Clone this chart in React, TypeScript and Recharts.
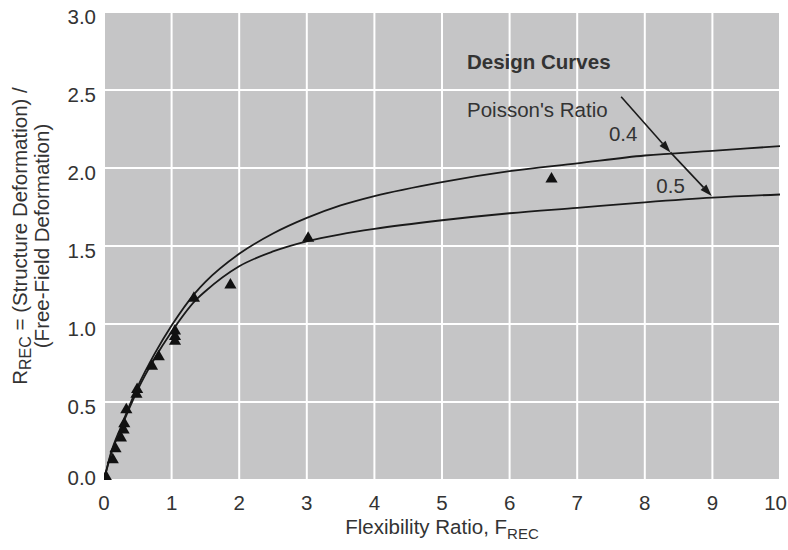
import React from 'react';
import {
  ComposedChart,
  Line,
  Scatter,
  XAxis,
  YAxis,
  CartesianGrid,
  ReferenceLine,
  ReferenceDot,
} from 'recharts';

// Design curve, Poisson's ratio 0.4
const curve04 = [
  { x: 0, y: 0 },
  { x: 0.1, y: 0.17 },
  { x: 0.25, y: 0.34 },
  { x: 0.5, y: 0.6 },
  { x: 0.75, y: 0.81 },
  { x: 1, y: 0.99 },
  { x: 1.35, y: 1.2 },
  { x: 1.5, y: 1.27 },
  { x: 2, y: 1.45 },
  { x: 2.5, y: 1.58 },
  { x: 3, y: 1.68 },
  { x: 3.5, y: 1.76 },
  { x: 4, y: 1.82 },
  { x: 5, y: 1.91 },
  { x: 6, y: 1.98 },
  { x: 7, y: 2.03 },
  { x: 8, y: 2.08 },
  { x: 9, y: 2.11 },
  { x: 10, y: 2.14 },
];

// Design curve, Poisson's ratio 0.5
const curve05 = [
  { x: 0, y: 0 },
  { x: 0.1, y: 0.16 },
  { x: 0.25, y: 0.33 },
  { x: 0.5, y: 0.58 },
  { x: 0.75, y: 0.78 },
  { x: 1, y: 0.95 },
  { x: 1.35, y: 1.15 },
  { x: 1.5, y: 1.21 },
  { x: 2, y: 1.37 },
  { x: 2.5, y: 1.465 },
  { x: 3, y: 1.53 },
  { x: 3.5, y: 1.575 },
  { x: 4, y: 1.61 },
  { x: 5, y: 1.665 },
  { x: 6, y: 1.71 },
  { x: 7, y: 1.745 },
  { x: 8, y: 1.78 },
  { x: 9, y: 1.81 },
  { x: 10, y: 1.83 },
];

// Measured points
const measured = [
  { x: 0.03, y: 0.02 },
  { x: 0.13, y: 0.13 },
  { x: 0.17, y: 0.2 },
  { x: 0.25, y: 0.27 },
  { x: 0.29, y: 0.32 },
  { x: 0.3, y: 0.36 },
  { x: 0.33, y: 0.45 },
  { x: 0.48, y: 0.55 },
  { x: 0.49, y: 0.58 },
  { x: 0.71, y: 0.73 },
  { x: 0.81, y: 0.79 },
  { x: 1.05, y: 0.89 },
  { x: 1.05, y: 0.92 },
  { x: 1.05, y: 0.955 },
  { x: 1.33, y: 1.165 },
  { x: 1.87, y: 1.25 },
  { x: 3.02, y: 1.55 },
  { x: 6.62, y: 1.93 },
];

const xTicks = [0, 1, 2, 3, 4, 5, 6, 7, 8, 9, 10];
const yTicks = [0, 0.5, 1, 1.5, 2, 2.5, 3];

// Annotation anchors (data coordinates)
const arrowStart = { x: 7.65, y: 2.457 };
const arrowMid = { x: 8.38, y: 2.1 };
const arrowEnd = { x: 8.99, y: 1.82 };
const annotations = [
  { x: 5.37, y: 2.68, text: 'Design Curves', bold: true },
  { x: 5.37, y: 2.378, text: "Poisson's Ratio", bold: false },
  { x: 7.47, y: 2.218, text: '0.4', bold: false },
  { x: 8.17, y: 1.885, text: '0.5', bold: false },
];

const FONT = '"Liberation Sans", Arial, Helvetica, sans-serif';
const TEXT = '#333333';
const FS = 20.5;

const ArrowShape = (p: any) => {
  const { x1, y1, x2, y2 } = p;
  if ([x1, y1, x2, y2].some((v) => v == null || isNaN(v))) return null;
  const ang = Math.atan2(y2 - y1, x2 - x1);
  const L = 12;
  const W = 4;
  const bx = x2 - L * Math.cos(ang);
  const by = y2 - L * Math.sin(ang);
  const px = -Math.sin(ang) * W;
  const py = Math.cos(ang) * W;
  return (
    <g>
      <line x1={x1} y1={y1} x2={bx} y2={by} stroke="#1a1a1a" strokeWidth={1.6} />
      <polygon
        points={`${x2},${y2} ${bx + px},${by + py} ${bx - px},${by - py}`}
        fill="#1a1a1a"
      />
    </g>
  );
};

const YTick = (props: any) => {
  const { x, y, payload } = props;
  const v = payload.value as number;
  const shift = v === 0 ? -3 : 4;
  return (
    <text
      x={x}
      y={y + shift}
      textAnchor="end"
      dominantBaseline="central"
      fontSize={FS}
      fontFamily={FONT}
      fill={TEXT}
    >
      {v.toFixed(1)}
    </text>
  );
};

const XTick = (props: any) => {
  const { x, y, payload } = props;
  const last = payload.value === xTicks[xTicks.length - 1];
  return (
    <text
      x={last ? x + 7 : x}
      y={y + 22}
      textAnchor={last ? 'end' : 'middle'}
      dominantBaseline="alphabetic"
      fontSize={FS}
      fontFamily={FONT}
      fill={TEXT}
    >
      {payload.value}
    </text>
  );
};

const XTitle = (props: any) => {
  const vb = props.viewBox || { x: 104, y: 480, width: 676, height: 70 };
  const cx = vb.x + vb.width / 2;
  const cy = vb.y + 54;
  return (
    <text x={cx} y={cy} textAnchor="middle" fontSize={FS} fontFamily={FONT} fill={TEXT}>
      Flexibility Ratio, F
      <tspan dy={5} fontSize={15}>
        REC
      </tspan>
    </text>
  );
};

const YTitle = (props: any) => {
  const vb = props.viewBox || { x: 0, y: 12, width: 104, height: 468 };
  const cy = vb.y + vb.height / 2 - 10;
  const x1 = 27;
  const x2 = 49;
  return (
    <g>
      <text
        x={x1}
        y={cy}
        transform={`rotate(-90, ${x1}, ${cy})`}
        textAnchor="middle"
        fontSize={FS}
        fontFamily={FONT}
        fill={TEXT}
      >
        R
        <tspan dy={4} fontSize={16}>
          REC
        </tspan>
        <tspan dy={-4}> = (Structure Deformation) /</tspan>
      </text>
      <text
        x={x2}
        y={cy}
        transform={`rotate(-90, ${x2}, ${cy})`}
        textAnchor="middle"
        fontSize={FS}
        fontFamily={FONT}
        fill={TEXT}
      >
        (Free-Field Deformation)
      </text>
    </g>
  );
};

export default function App() {
  return (
    <div
      style={{
        position: 'absolute',
        left: 0,
        top: 0,
        width: 788,
        height: 550,
        background: '#ffffff',
        fontFamily: FONT,
      }}
    >
      <ComposedChart
        width={788}
        height={550}
        margin={{ top: 12, right: 8, bottom: 0, left: 0 }}
      >
        <CartesianGrid fill="#c5c5c6" stroke="#ffffff" strokeWidth={2} />
        <XAxis
          type="number"
          dataKey="x"
          domain={[0, 10]}
          ticks={xTicks}
          interval={0}
          height={70}
          axisLine={false}
          tickLine={false}
          tick={<XTick />}
          allowDataOverflow
          label={XTitle}
        />
        <YAxis
          type="number"
          dataKey="y"
          domain={[0, 3]}
          ticks={yTicks}
          interval={0}
          width={104}
          axisLine={false}
          tickLine={false}
          tick={<YTick />}
          allowDataOverflow
          label={YTitle}
        />
        <Line
          data={curve04}
          dataKey="y"
          type="monotone"
          stroke="#1a1a1a"
          strokeWidth={1.8}
          dot={false}
          activeDot={false}
          isAnimationActive={false}
        />
        <Line
          data={curve05}
          dataKey="y"
          type="monotone"
          stroke="#1a1a1a"
          strokeWidth={1.8}
          dot={false}
          activeDot={false}
          isAnimationActive={false}
        />
        <Scatter
          data={measured}
          dataKey="y"
          shape="triangle"
          fill="#111111"
          isAnimationActive={false}
        />
        <ReferenceLine
          segment={[arrowStart, arrowMid]}
          shape={ArrowShape}
          ifOverflow="visible"
        />
        <ReferenceLine
          segment={[arrowMid, arrowEnd]}
          shape={ArrowShape}
          ifOverflow="visible"
        />
        {annotations.map((a) => (
          <ReferenceDot
            key={a.text}
            x={a.x}
            y={a.y}
            r={0}
            ifOverflow="visible"
            shape={(p: any) => (
              <text
                x={p.cx}
                y={p.cy}
                textAnchor="start"
                dominantBaseline="central"
                fontSize={FS}
                fontWeight={a.bold ? 'bold' : 'normal'}
                fontFamily={FONT}
                fill={TEXT}
              >
                {a.text}
              </text>
            )}
          />
        ))}
      </ComposedChart>
    </div>
  );
}
